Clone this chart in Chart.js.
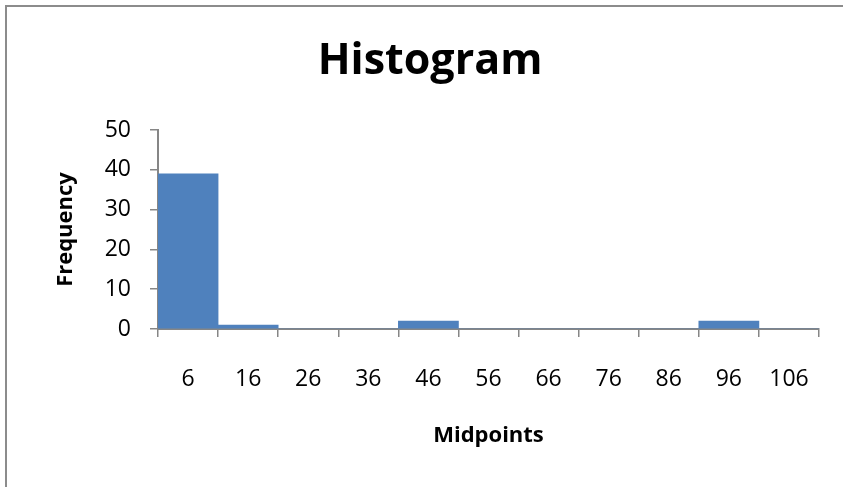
<!DOCTYPE html>
<html>
<head>
<meta charset="utf-8">
<title>Histogram</title>
<script src="https://cdn.jsdelivr.net/npm/chart.js@4"></script>
<style>
  body { margin: 0; background: #fff; }
  #wrap { position: relative; width: 843px; height: 487px; overflow: hidden; }
  /* chart frame, only its top and left edges show */
  #frame {
    position: absolute; left: 5px; top: 5px; width: 900px; height: 600px;
    border-top: 2px solid #8c8c8c; border-left: 2px solid #8c8c8c;
  }
  canvas { position: absolute; left: 0; top: 0; }
</style>
</head>
<body>
<div id="wrap">
  <div id="frame"></div>
  <canvas id="histo" width="843" height="487"></canvas>
</div>
<script>
// bins and counts
const midpoints = ["6", "16", "26", "36", "46", "56", "66", "76", "86", "96", "106"];
const frequency = [39, 1, 0, 0, 2, 0, 0, 0, 0, 2, 0];
const yTicks = [0, 10, 20, 30, 40, 50];

const axisGray = "#868686";
const fontFam = "'Open Sans', sans-serif";

document.addEventListener("DOMContentLoaded", function () {
  const ctx = document.getElementById("histo").getContext("2d");

  new Chart(ctx, {
    type: "bar",
    data: {
      labels: midpoints,
      datasets: [{
        label: "Frequency",
        data: frequency,
        backgroundColor: "#4F81BD",
        borderWidth: 0,
        barPercentage: 1,
        categoryPercentage: 1,
      }],
    },
    options: {
      responsive: false,
      animation: false,
      layout: { padding: { left: 41, right: 24, top: 0, bottom: 0 } },
      plugins: {
        legend: { display: false },
        tooltip: { enabled: false },
        title: {
          display: true,
          text: "Histogram",
          color: "#000",
          font: { family: fontFam, size: 43, weight: "bold" },
          padding: { top: 36, bottom: 42.4 },
        },
      },
      scales: {
        x: {
          grid: {
            drawOnChartArea: false,
            drawTicks: true,
            tickLength: 8,
            color: axisGray,
            lineWidth: 1.5,
          },
          border: { display: true, color: axisGray, width: 2 },
          ticks: {
            color: "#000",
            padding: 29,
            maxRotation: 0,
            autoSkip: false,
            font: { family: fontFam, size: 23 },
          },
          title: {
            display: true,
            text: "Midpoints",
            color: "#000",
            font: { family: fontFam, size: 22, weight: "bold" },
            padding: { top: 0, bottom: 38 },
          },
          afterFit: function (scale) { scale.height = 158; },
        },
        y: {
          min: 0,
          max: 50,
          grid: {
            drawOnChartArea: false,
            drawTicks: true,
            tickLength: 8,
            color: axisGray,
            lineWidth: 1.5,
          },
          border: { display: true, color: axisGray, width: 2 },
          afterBuildTicks: function (scale) {
            scale.ticks = yTicks.map(function (v) { return { value: v }; });
          },
          ticks: {
            color: "#000",
            padding: 19,
            font: { family: fontFam, size: 23 },
          },
          title: {
            display: true,
            text: "Frequency",
            color: "#000",
            font: { family: fontFam, size: 22, weight: "bold" },
            padding: { top: 12, bottom: 0 },
          },
          afterFit: function (scale) { scale.width = 117; },
        },
      },
    },
  });
});
</script>
</body>
</html>
